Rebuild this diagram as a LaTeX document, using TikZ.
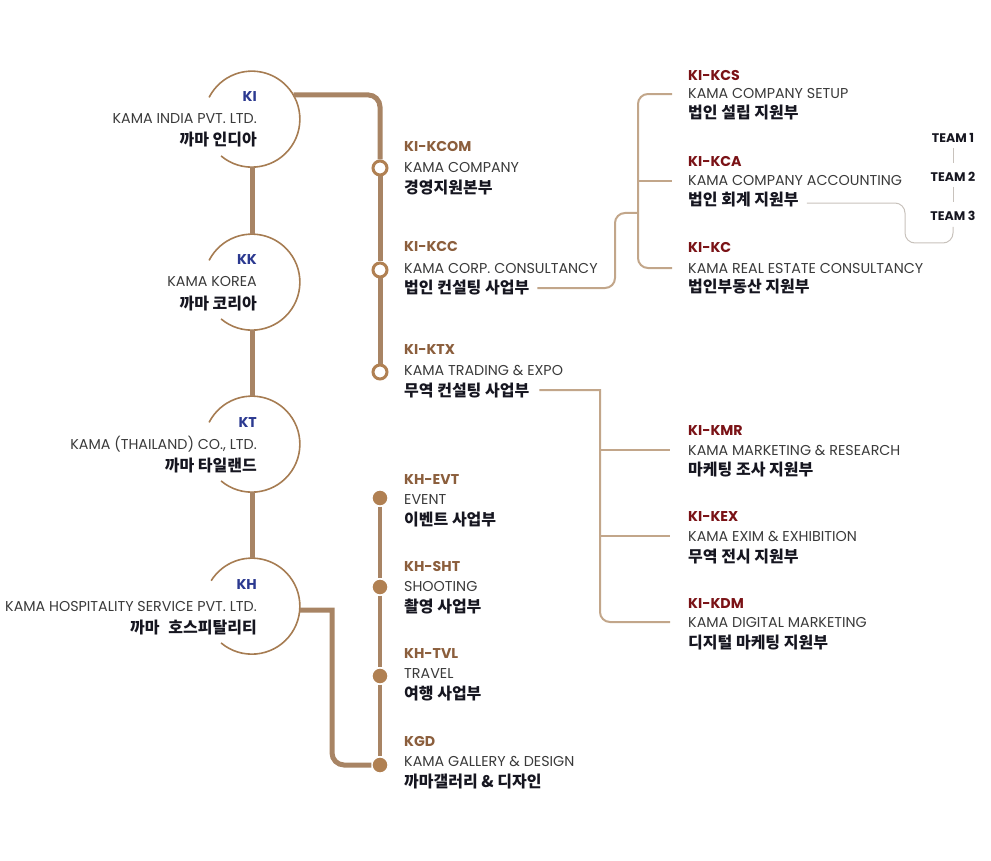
\documentclass[tikz,border=0pt]{standalone}
\usepackage{fontspec}
\usepackage{xcolor}
\usetikzlibrary{positioning}
\setmainfont{Poppins}
\newfontfamily\kofont{Noto Sans CJK KR}

\definecolor{kiblue}{RGB}{43,57,144}
\definecolor{codebrown}{RGB}{139,94,60}
\definecolor{codered}{RGB}{122,18,22}
\definecolor{trunkcol}{RGB}{168,132,100}
\definecolor{ringcol}{RGB}{166,124,82}
\definecolor{dotcol}{RGB}{176,128,82}
\definecolor{twigcol}{RGB}{194,166,138}
\definecolor{teamcol}{RGB}{200,194,188}
\definecolor{entxtcol}{RGB}{58,58,58}
\definecolor{kotxtcol}{RGB}{22,22,32}

\begin{document}
\begin{tikzpicture}[x=1pt, y=-1pt,
    ringnode/.style={circle, minimum size=96pt, inner sep=0pt},
    ring/.style={draw=ringcol, line width=1.6pt},
    trunk/.style={draw=trunkcol, line width=5pt},
    stem/.style={draw=trunkcol, line width=3.5pt},
    twig/.style={draw=twigcol, line width=2pt},
    teamline/.style={draw=teamcol, line width=1pt},
    hollowdot/.style={circle, draw=dotcol, fill=white, line width=3pt, minimum size=14pt, inner sep=0pt},
    filldot/.style={circle, draw=white, fill=dotcol, line width=1.2pt, minimum size=16pt, inner sep=0pt},
    txtbase/.style={inner sep=0pt, anchor=base west},
    flushr/.style={anchor=base east},
    codetxt/.style={txtbase, font=\bfseries\fontsize{14.2}{16}\selectfont},
    entxt/.style={txtbase, text=entxtcol, font=\fontsize{14.3}{16}\selectfont},
    kotxt/.style={txtbase, text=kotxtcol, font=\kofont\bfseries\fontsize{16}{18}\selectfont},
    teamtxt/.style={inner sep=0pt, text=kotxtcol, font=\bfseries\fontsize{12.5}{14}\selectfont}]
    \useasboundingbox (0,0) rectangle (991,861);

    % Nodes
    \node[ringnode] (ki) at (252,119) {};
    \node[ringnode] (kk) at (252,282) {};
    \node[ringnode] (kt) at (252,444) {};
    \node[ringnode] (kh) at (252,606) {};

    \node[codetxt, text=kiblue, flushr] (ki-code) at (257,102) {KI};
    \node[below=22pt of ki-code.base east, entxt, flushr] (ki-en) {KAMA INDIA PVT. LTD.};
    \node[below=22pt of ki-en.base east, kotxt, flushr] (ki-ko) {까마 인디아};
    \node[codetxt, text=kiblue, flushr] (kk-code) at (257,265) {KK};
    \node[below=22pt of kk-code.base east, entxt, flushr] (kk-en) {KAMA KOREA};
    \node[below=22pt of kk-en.base east, kotxt, flushr] (kk-ko) {까마 코리아};
    \node[codetxt, text=kiblue, flushr] (kt-code) at (257,427) {KT};
    \node[below=22pt of kt-code.base east, entxt, flushr] (kt-en) {KAMA (THAILAND) CO., LTD.};
    \node[below=22pt of kt-en.base east, kotxt, flushr] (kt-ko) {까마 타일랜드};
    \node[codetxt, text=kiblue, flushr] (kh-code) at (257,589) {KH};
    \node[below=22pt of kh-code.base east, entxt, flushr] (kh-en) {KAMA HOSPITALITY SERVICE PVT. LTD.};
    \node[below=22pt of kh-en.base east, kotxt, flushr] (kh-ko) {까마\hspace{9pt}호스피탈리티};

    \node[hollowdot] (kcom-dot) at (380,168) {};
    \node[hollowdot] (kcc-dot) at (380,270) {};
    \node[hollowdot] (ktx-dot) at (380,372) {};
    \node[filldot] (evt-dot) at (380,498) {};
    \node[filldot] (sht-dot) at (380,587) {};
    \node[filldot] (tvl-dot) at (380,676) {};
    \node[filldot] (kgd-dot) at (380,765) {};

    \node[codetxt, text=codebrown] (kcom) at (404,152) {KI-KCOM};
    \node[below=21pt of kcom.base west, entxt] (kcom-en) {KAMA COMPANY};
    \node[below=21pt of kcom-en.base west, kotxt] (kcom-ko) {경영지원본부};
    \node[codetxt, text=codebrown] (kcc) at (404,252) {KI-KCC};
    \node[below=21pt of kcc.base west, entxt] (kcc-en) {KAMA CORP. CONSULTANCY};
    \node[below=21pt of kcc-en.base west, kotxt] (kcc-ko) {법인 컨설팅 사업부};
    \node[codetxt, text=codebrown] (ktx) at (404,354) {KI-KTX};
    \node[below=21pt of ktx.base west, entxt] (ktx-en) {KAMA TRADING \& EXPO};
    \node[below=21pt of ktx-en.base west, kotxt] (ktx-ko) {무역 컨설팅 사업부};

    \node[codetxt, text=codebrown] (evt) at (404,484) {KH-EVT};
    \node[below=20pt of evt.base west, entxt] (evt-en) {EVENT};
    \node[below=21pt of evt-en.base west, kotxt] (evt-ko) {이벤트 사업부};
    \node[codetxt, text=codebrown] (sht) at (404,571) {KH-SHT};
    \node[below=20pt of sht.base west, entxt] (sht-en) {SHOOTING};
    \node[below=21pt of sht-en.base west, kotxt] (sht-ko) {촬영 사업부};
    \node[codetxt, text=codebrown] (tvl) at (404,658) {KH-TVL};
    \node[below=20pt of tvl.base west, entxt] (tvl-en) {TRAVEL};
    \node[below=21pt of tvl-en.base west, kotxt] (tvl-ko) {여행 사업부};
    \node[codetxt, text=codebrown] (kgd) at (404,746) {KGD};
    \node[below=20pt of kgd.base west, entxt] (kgd-en) {KAMA GALLERY \& DESIGN};
    \node[below=21pt of kgd-en.base west, kotxt] (kgd-ko) {까마갤러리 \& 디자인};

    \node[codetxt, text=codered] (kcs) at (688,81) {KI-KCS};
    \node[below=18pt of kcs.base west, entxt] (kcs-en) {KAMA COMPANY SETUP};
    \node[below=20pt of kcs-en.base west, kotxt] (kcs-ko) {법인 설립 지원부};
    \node[codetxt, text=codered] (kca) at (688,167) {KI-KCA};
    \node[below=19pt of kca.base west, entxt] (kca-en) {KAMA COMPANY ACCOUNTING};
    \node[below=20pt of kca-en.base west, kotxt] (kca-ko) {법인 회계 지원부};
    \node[codetxt, text=codered] (kc) at (688,253) {KI-KC};
    \node[below=20pt of kc.base west, entxt] (kc-en) {KAMA REAL ESTATE CONSULTANCY};
    \node[below=20pt of kc-en.base west, kotxt] (kc-ko) {법인부동산 지원부};

    \node[codetxt, text=codered] (kmr) at (688,435) {KI-KMR};
    \node[below=20pt of kmr.base west, entxt] (kmr-en) {KAMA MARKETING \& RESEARCH};
    \node[below=20pt of kmr-en.base west, kotxt] (kmr-ko) {마케팅 조사 지원부};
    \node[codetxt, text=codered] (kex) at (688,521) {KI-KEX};
    \node[below=20pt of kex.base west, entxt] (kex-en) {KAMA EXIM \& EXHIBITION};
    \node[below=21pt of kex-en.base west, kotxt] (kex-ko) {무역 전시 지원부};
    \node[codetxt, text=codered] (kdm) at (688,608) {KI-KDM};
    \node[below=19pt of kdm.base west, entxt] (kdm-en) {KAMA DIGITAL MARKETING};
    \node[below=21pt of kdm-en.base west, kotxt] (kdm-ko) {디지털 마케팅 지원부};

    \node[teamtxt] (team1) at (953,138) {TEAM 1};
    \node[teamtxt] (team2) at (953,177) {TEAM 2};
    \node[teamtxt] (team3) at (953,216) {TEAM 3};

    \coordinate (kcc-bend) at (615,213);
    \coordinate (ktx-spine) at (600,388);
    \coordinate (team-bend) at (905,243);

    % Edges
    \draw[ring] (ki.-130) arc[start angle=-130, end angle=153, radius=48pt];
    \draw[ring] (kk.-130) arc[start angle=-130, end angle=153, radius=48pt];
    \draw[ring] (kt.-130) arc[start angle=-130, end angle=153, radius=48pt];
    \draw[ring] (kh.-130) arc[start angle=-130, end angle=148, radius=48pt];
    \draw[trunk] (ki) -- (kk);
    \draw[trunk] (kk) -- (kt);
    \draw[trunk] (kt) -- (kh);

    \draw[trunk, rounded corners=12pt] (ki.30) -| (kcom-dot);
    \draw[trunk] (kcom-dot) -- (kcc-dot);
    \draw[trunk] (kcc-dot) -- (ktx-dot);

    \draw[trunk] (kh.-5) -- ++(32,0) [rounded corners=12pt] |- (kgd-dot);
    \draw[stem] (evt-dot) -- (sht-dot);
    \draw[stem] (sht-dot) -- (tvl-dot);
    \draw[stem] (tvl-dot) -- (kgd-dot);

    \draw[twig, rounded corners=10pt] ([xshift=-16pt]kcs-en.west) -- ++(-34,0) coordinate (kci-spine) |- ([xshift=-16pt]kc-en.west);
    \draw[twig] (kci-spine |- kca-en.west) -- ([xshift=-16pt]kca-en.west);
    \draw[twig, rounded corners=10pt] ([xshift=8pt]kcc-ko.east) -| (kcc-bend) -- (kcc-bend -| kci-spine);

    \draw[twig] ([xshift=10pt]ktx-ko.east) -- (ktx-ko.east -| ktx-spine) [rounded corners=10pt] |- ([xshift=-18pt]kdm-en.west);
    \draw[twig] (ktx-spine |- kmr-en.west) -- ([xshift=-18pt]kmr-en.west);
    \draw[twig] (ktx-spine |- kex-en.west) -- ([xshift=-18pt]kex-en.west);

    \draw[teamline, shorten <=5pt, shorten >=9pt] (team1) -- (team2);
    \draw[teamline, shorten <=5pt, shorten >=9pt] (team2) -- (team3);
    \draw[teamline, rounded corners=10pt, shorten >=6pt] ([shift={(8pt,-3pt)}]kca-ko.east) -| (team-bend) -| (team3.south);
\end{tikzpicture}
\end{document}
